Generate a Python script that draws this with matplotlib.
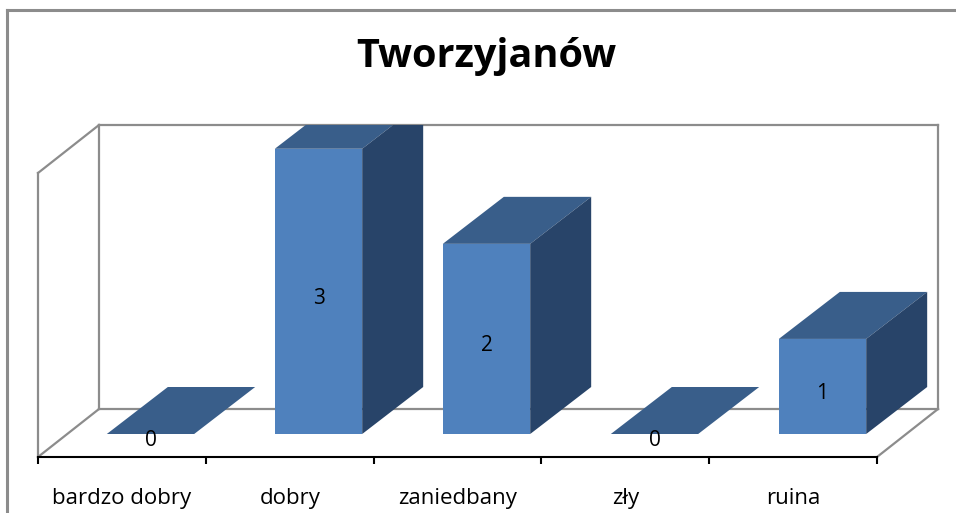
import matplotlib
matplotlib.use("Agg")
import matplotlib.pyplot as plt
from matplotlib.patches import Polygon
from matplotlib.lines import Line2D
from matplotlib.transforms import Bbox

title = "Tworzyjanów"
categories = ["bardzo dobry", "dobry", "zaniedbany", "zły", "ruina"]
values = [0, 3, 2, 0, 1]

W, H = 956, 513
FRONT = "#4F81BD"
TOP = "#395E8A"
SIDE = "#284469"
WALL = "#8C8C8C"
FONT = "Open Sans"


def box(x0, y0, x1, y1):
    # pixel box (image coords, y down) -> figure fraction rect
    return [x0 / W, (H - y1) / H, (x1 - x0) / W, (y1 - y0) / H]


fig = plt.figure(figsize=(W / 100, H / 100), dpi=100)

# outer chart frame
fig.add_artist(Line2D([7, 7], [0, H - 10], transform=None, color=WALL, lw=2.2, zorder=-2))
fig.add_artist(Line2D([7, W], [H - 10, H - 10], transform=None, color=WALL, lw=2.2, zorder=-2))

fig.text(486 / W, 1 - 56 / H, title, ha="center", va="center",
         fontsize=28.5, fontweight="bold", family=FONT)

# front floor axis (category axis)
axf = fig.add_axes(box(38, 437, 877, 457))
axf.set_xlim(-0.5, len(categories) - 0.5)
axf.set_ylim(0, 1)
for s in ["top", "left", "right"]:
    axf.spines[s].set_visible(False)
axf.spines["bottom"].set_color("black")
axf.spines["bottom"].set_linewidth(1.5)
axf.patch.set_visible(False)
axf.set_yticks([])
axf.set_xticks([i - 0.5 for i in range(len(categories) + 1)])
axf.set_xticklabels([])
axf.tick_params(axis="x", which="major", direction="out", length=5, width=1.5, color="black")
axf.set_xticks(range(len(categories)), minor=True)
axf.set_xticklabels(categories, minor=True, fontsize=16, family=FONT)
axf.tick_params(axis="x", which="minor", length=0, pad=22)

# bar axes: front plane of the bars
ymax = 3.25
ax = fig.add_axes(box(66.5, 125, 906.5, 434))
ax.set_xlim(-0.5, len(categories) - 0.5)
ax.set_ylim(0, ymax)
ax.axis("off")

fig.canvas.draw()

# depth of the 3D look in pixels
dx, dy = 61, 48
fx0, fy = axf.transData.transform((-0.5, 0))
fx1, _ = axf.transData.transform((len(categories) - 0.5, 0))
_, ytop = ax.transData.transform((0, ymax))
bx0, bx1, by = fx0 + dx, fx1 + dx, fy + dy
walls = [
    ([fx0, fx0], [fy, ytop - dy]),
    ([fx0, bx0], [ytop - dy, ytop]),
    ([fx0, bx0], [fy, by]),
    ([bx0, bx0], [by, ytop]),
    ([bx0, bx1], [ytop, ytop]),
    ([bx0, bx1], [by, by]),
    ([bx1, bx1], [by, ytop]),
    ([fx1, bx1], [fy, by]),
]
for xs, ys in walls:
    fig.add_artist(Line2D(xs, ys, transform=None, color=WALL, lw=1.6, zorder=-1))

clip = Bbox([[0, 0], [W, ytop]])
width = 0.52
dpx, dpy = 61, 47
bars = ax.bar(range(len(values)), values, width=width, color=FRONT, zorder=2)
for b in bars:
    b.set_clip_on(False)

for i, v in enumerate(values):
    (lx, by0), (rx, ty) = ax.transData.transform([(i - width / 2, 0), (i + width / 2, v)])
    top = Polygon([(lx, ty), (rx, ty), (rx + dpx, ty + dpy), (lx + dpx, ty + dpy)],
                  closed=True, transform=None, facecolor=TOP, edgecolor="none", zorder=-0.5)
    side = Polygon([(rx, by0), (rx, ty), (rx + dpx, ty + dpy), (rx + dpx, by0 + dpy)],
                   closed=True, transform=None, facecolor=SIDE, edgecolor="none", zorder=-0.5)
    for p in (top, side):
        p.set_clip_box(clip)
        fig.add_artist(p)
    if v > 0:
        ax.annotate(str(v), (i, v / 2), xytext=(0, -5), textcoords="offset points",
                    ha="center", va="center", fontsize=15, family=FONT, zorder=3)
    else:
        ax.annotate(str(v), (i, 0), xytext=(0, -5), textcoords="offset points",
                    ha="center", va="center", fontsize=15, family=FONT, zorder=3,
                    annotation_clip=False)

fig.savefig("out.png", dpi=100)
